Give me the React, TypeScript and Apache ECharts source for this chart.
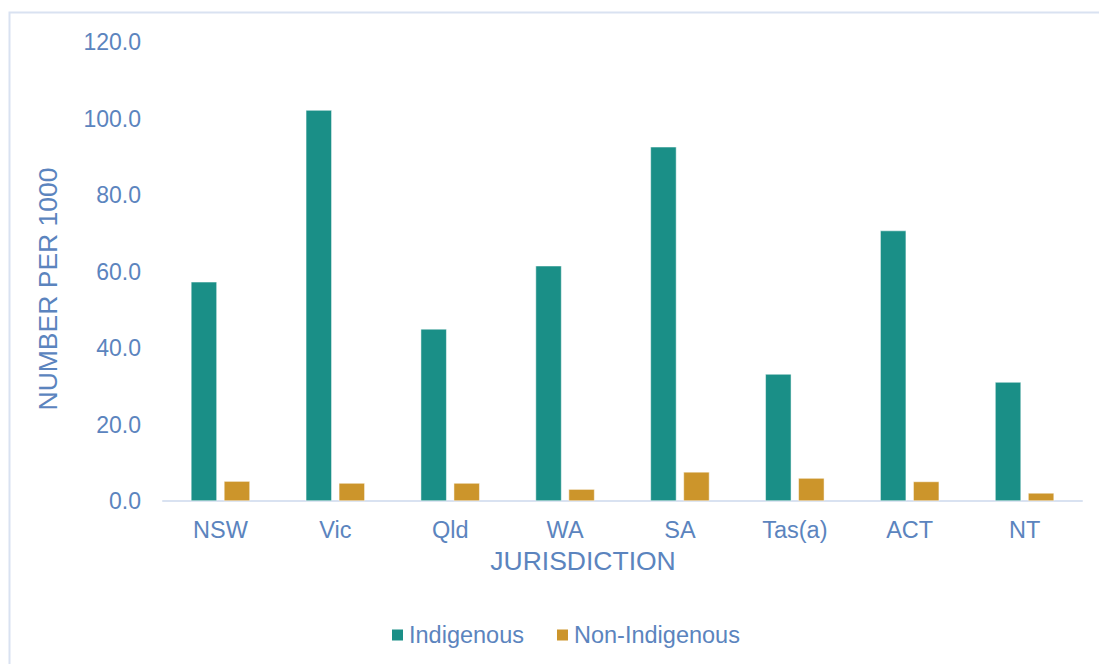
import React, { useEffect, useRef } from "react";
import * as echarts from "echarts";

const categories = ["NSW", "Vic", "Qld", "WA", "SA", "Tas(a)", "ACT", "NT"];
const indigenous = [57.3, 102.2, 45.0, 61.5, 92.6, 33.2, 70.7, 31.1];
const nonIndigenous = [5.2, 4.7, 4.7, 3.1, 7.6, 6.0, 5.1, 2.1];
const yTicks = { min: 0, max: 120, interval: 20 };
const xTitle = "JURISDICTION";
const yTitle = "NUMBER PER 1000";

const TEXT = "#5b84be";
const FONT = "Liberation Sans, Arial, sans-serif";

export default function App() {
  const ref = useRef<HTMLDivElement>(null);
  useEffect(() => {
    if (!ref.current) return;
    const chart = echarts.init(ref.current, undefined, { renderer: "svg" });
    chart.setOption({
      animation: false,
      textStyle: { fontFamily: FONT },
      graphic: [
        {
          type: "rect",
          shape: { x: 9.5, y: 12.5, width: 1200, height: 800 },
          style: { fill: "none", stroke: "#d9e2f1", lineWidth: 2 },
          silent: true,
        },
        {
          type: "text",
          x: 583,
          y: 561,
          style: {
            text: xTitle,
            fill: TEXT,
            font: `26.5px ${FONT}`,
            textAlign: "center",
            textVerticalAlign: "middle",
          },
        },
        {
          type: "text",
          x: 48,
          y: 289,
          rotation: Math.PI / 2,
          style: {
            text: yTitle,
            fill: TEXT,
            font: `26.5px ${FONT}`,
            textAlign: "center",
            textVerticalAlign: "middle",
          },
        },
      ],
      grid: { left: 163, right: 17, top: 42, bottom: 163 },
      legend: {
        data: ["Indigenous", "Non-Indigenous"],
        left: 390,
        top: 623,
        padding: 0,
        itemWidth: 13,
        itemHeight: 13,
        itemGap: 31,
        icon: "rect",
        textStyle: { color: TEXT, fontSize: 23.5, fontFamily: FONT },
      },
      xAxis: {
        type: "category",
        data: categories,
        axisLine: { lineStyle: { color: "#d9e2f1", width: 2 } },
        axisTick: { show: false },
        axisLabel: { color: TEXT, fontSize: 23.5, margin: 17, fontFamily: FONT },
      },
      yAxis: {
        type: "value",
        min: yTicks.min,
        max: yTicks.max,
        interval: yTicks.interval,
        axisLine: { show: false },
        axisTick: { show: false },
        splitLine: { show: false },
        axisLabel: {
          color: TEXT,
          fontSize: 23,
          margin: 22,
          fontFamily: FONT,
          formatter: (v: number) => v.toFixed(1),
        },
      },
      series: [
        {
          name: "Indigenous",
          type: "bar",
          data: indigenous,
          barWidth: 26,
          barGap: "27%",
          itemStyle: { color: "#1a8f87", borderColor: "#ffffff", borderWidth: 0.5 },
        },
        {
          name: "Non-Indigenous",
          type: "bar",
          data: nonIndigenous,
          barWidth: 26,
          itemStyle: { color: "#cc952b", borderColor: "#ffffff", borderWidth: 0.5 },
        },
      ],
    });
    return () => chart.dispose();
  }, []);
  return <div ref={ref} style={{ width: 1099, height: 664, position: "absolute", left: 0, top: 0 }} />;
}
